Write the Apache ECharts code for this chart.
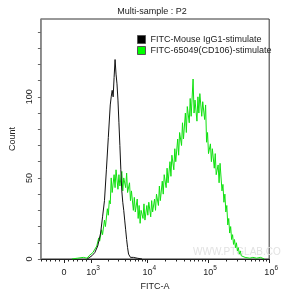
<!DOCTYPE html>
<html><head><meta charset="utf-8">
<script src="https://cdn.jsdelivr.net/npm/echarts@6/dist/echarts.min.js"></script>
<style>html,body{margin:0;padding:0;background:#fff}#c{width:281px;height:296px}</style>
</head><body><div id="c"></div>
<script>
const titleText = 'Multi-sample : P2';
const seriesNames = ['FITC-Mouse IgG1-stimulate', 'FITC-65049(CD106)-stimulate'];
// x values are display channels (0..237) of the biexponential FITC-A scale
const xTickChannels = [24, 52, 110.5, 173.5, 237];
const xTickLabels = ['0', '10^3', '10^4', '10^5', '10^6'];
const yLabelValues = [0, 50, 100];

const blackChannel = [48,50,53,56,59,62,64,66,68,70,72,73,74,75,76,77,78,79,80,81,82,83,84,85,86,87,88,89,90,91,92,93,94,96,98,100,102,105];
const blackCount = [0,1,2,4,8,16,26,36,55,75,95,100,104,100,112,123,114,108,98,84,70,55,42,35,30,24,18,12,7,3,2,1,2,1,2,0.5,1,0];

const greenHist = [
[32,0],[38,0.5],[44,1],[48,0.5],[50,2],[52,1],[54,4],[56,3],[58,8],[60,13],[61,11],[63,18],[64,15],[66,24],[67,20],[69,31],[70,27],[71,36],[72,34],[73,50],[74,41],[76,52],[77,44],[78,55],[80,43],[81,52],[82,45],[84,54],[85,42],[86,50],[88,44],[89,53],[90,41],[92,47],[93,36],[94,42],[96,30],[97,38],[98,29],[100,37],[101,25],[102,33],[103,22],[104,30],[106,25],[107,34],[108,24],[110,33],[111,27],[112,35],[114,26],[115,36],[116,29],[118,37],[119,30],[120,40],[122,33],[123,45],[124,36],[126,48],[127,40],[128,52],[130,44],[131,56],[132,47],[134,60],[135,51],[136,64],[138,55],[139,68],[140,60],[142,74],[143,64],[144,78],[146,70],[147,84],[148,74],[150,90],[151,78],[152,94],[154,84],[155,99],[156,88],[158,111],[159,90],[160,98],[162,85],[163,100],[164,90],[165,102],[167,88],[168,97],[170,86],[171,95],[172,72],[173,78],[174,65],[176,71],[177,60],[178,68],[180,56],[181,65],[182,52],[184,58],[185,47],[186,59],[188,42],[189,46],[190,35],[191,40],[192,29],[193,33],[194,21],[195,25],[196,16],[197,20],[198,12],[199,15],[200,9],[201,12],[202,7],[203,10],[204,5],[205,7],[206,3],[207,5],[208,2],[210,3],[212,1],[214,2],[217,0.5],[220,1],[224,0.5],[228,1],[232,0]
];

// axis tick layout (positions of minor ticks on display scale)
const minorX = [];
for (let k = -5; k <= 5; k++) { if (k !== 0) minorX.push(24 + 4.67 * k); }
for (let d = 1; d < 4; d++) {
  const a = xTickChannels[d], b = xTickChannels[d + 1];
  for (let m = 2; m <= 9; m++) minorX.push(a + (b - a) * Math.log10(m));
}
const yTicks = [];
for (let v = 0; v <= 140; v += 10) yTicks.push(v);

const FONT = 'Liberation Sans, Arial, sans-serif';
const chart = echarts.init(document.getElementById('c'), null, {renderer: 'canvas'});
const xBase = {
  type: 'value', min: 0, max: 237, position: 'bottom',
  splitLine: {show: false}
};
chart.setOption({
  animation: false,
  backgroundColor: '#fff',
  title: {text: titleText, left: 152, textAlign: 'center', top: 7, padding: 0,
    textStyle: {fontFamily: FONT, fontSize: 9, fontWeight: 'normal', color: '#222'}},
  grid: {left: 38, right: 6, top: 19, bottom: 37, show: true, borderColor: '#333', borderWidth: 1, backgroundColor: 'transparent'},
  legend: {
    orient: 'vertical', left: 137, top: 35, padding: 0, itemWidth: 8, itemHeight: 8, itemGap: 2, icon: 'rect',
    textStyle: {fontFamily: FONT, fontSize: 9, color: '#222'},
    data: [
      {name: seriesNames[0], itemStyle: {color: '#000', borderColor: '#555', borderWidth: 1}},
      {name: seriesNames[1], itemStyle: {color: '#00ff00', borderColor: '#555', borderWidth: 1}}
    ]
  },
  xAxis: [
    Object.assign({}, xBase, {
      name: 'FITC-A', nameLocation: 'middle', nameGap: 17,
      nameTextStyle: {fontFamily: FONT, fontSize: 9, color: '#222'},
      axisLine: {show: true, onZero: false, lineStyle: {color: '#222', width: 1}},
      axisTick: {show: true, customValues: xTickChannels, length: 4, lineStyle: {color: '#222'}},
      axisLabel: {show: true, customValues: xTickChannels, margin: 6,
        formatter: function (v) {
          const i = xTickChannels.indexOf(v);
          const s = xTickLabels[i] || '';
          if (s.indexOf('^') < 0) return '{z|' + s + '}';
          const p = s.split('^');
          return '{b|' + p[0] + '}{s|' + p[1] + '}';
        },
        rich: {
          z: {fontFamily: FONT, fontSize: 9, color: '#222', lineHeight: 12, verticalAlign: 'bottom'},
          b: {fontFamily: FONT, fontSize: 9, color: '#222', lineHeight: 12, verticalAlign: 'bottom', padding: [0, 0, 0, 4]},
          s: {fontFamily: FONT, fontSize: 6.5, color: '#222', lineHeight: 8, verticalAlign: 'top'}
        }
      }
    }),
    Object.assign({}, xBase, {
      axisLine: {show: false},
      axisTick: {show: true, customValues: minorX, length: 2.5, lineStyle: {color: '#222'}},
      axisLabel: {show: false}
    })
  ],
  yAxis: {
    type: 'value', min: 0, max: 148,
    name: 'Count', nameLocation: 'middle', nameGap: 22, nameRotate: 90,
    nameTextStyle: {fontFamily: FONT, fontSize: 9, color: '#222'},
    axisLine: {show: true, lineStyle: {color: '#8a8a8a', width: 1.5}},
    axisTick: {show: true, customValues: yTicks, length: 3, lineStyle: {color: '#666'}},
    axisLabel: {customValues: yLabelValues, rotate: 90, margin: 7,
      fontFamily: FONT, fontSize: 9, color: '#222'},
    splitLine: {show: false}
  },
  graphic: [{
    type: 'text', left: 193, top: 247, silent: true,
    style: {text: 'WWW.PTGLAB.COM', fontFamily: FONT, fontSize: 10, fill: '#e2e2e2'}
  }],
  series: [
    {name: seriesNames[0], type: 'line', xAxisIndex: 0, symbol: 'none', z: 3,
      lineStyle: {color: '#111', width: 1}, itemStyle: {color: '#000'},
      data: blackChannel.map((c, i) => [c, blackCount[i]])},
    {name: seriesNames[1], type: 'line', xAxisIndex: 0, symbol: 'none', z: 2,
      lineStyle: {color: '#10e010', width: 1}, itemStyle: {color: '#00ff00'},
      data: greenHist}
  ]
});
</script></body></html>
